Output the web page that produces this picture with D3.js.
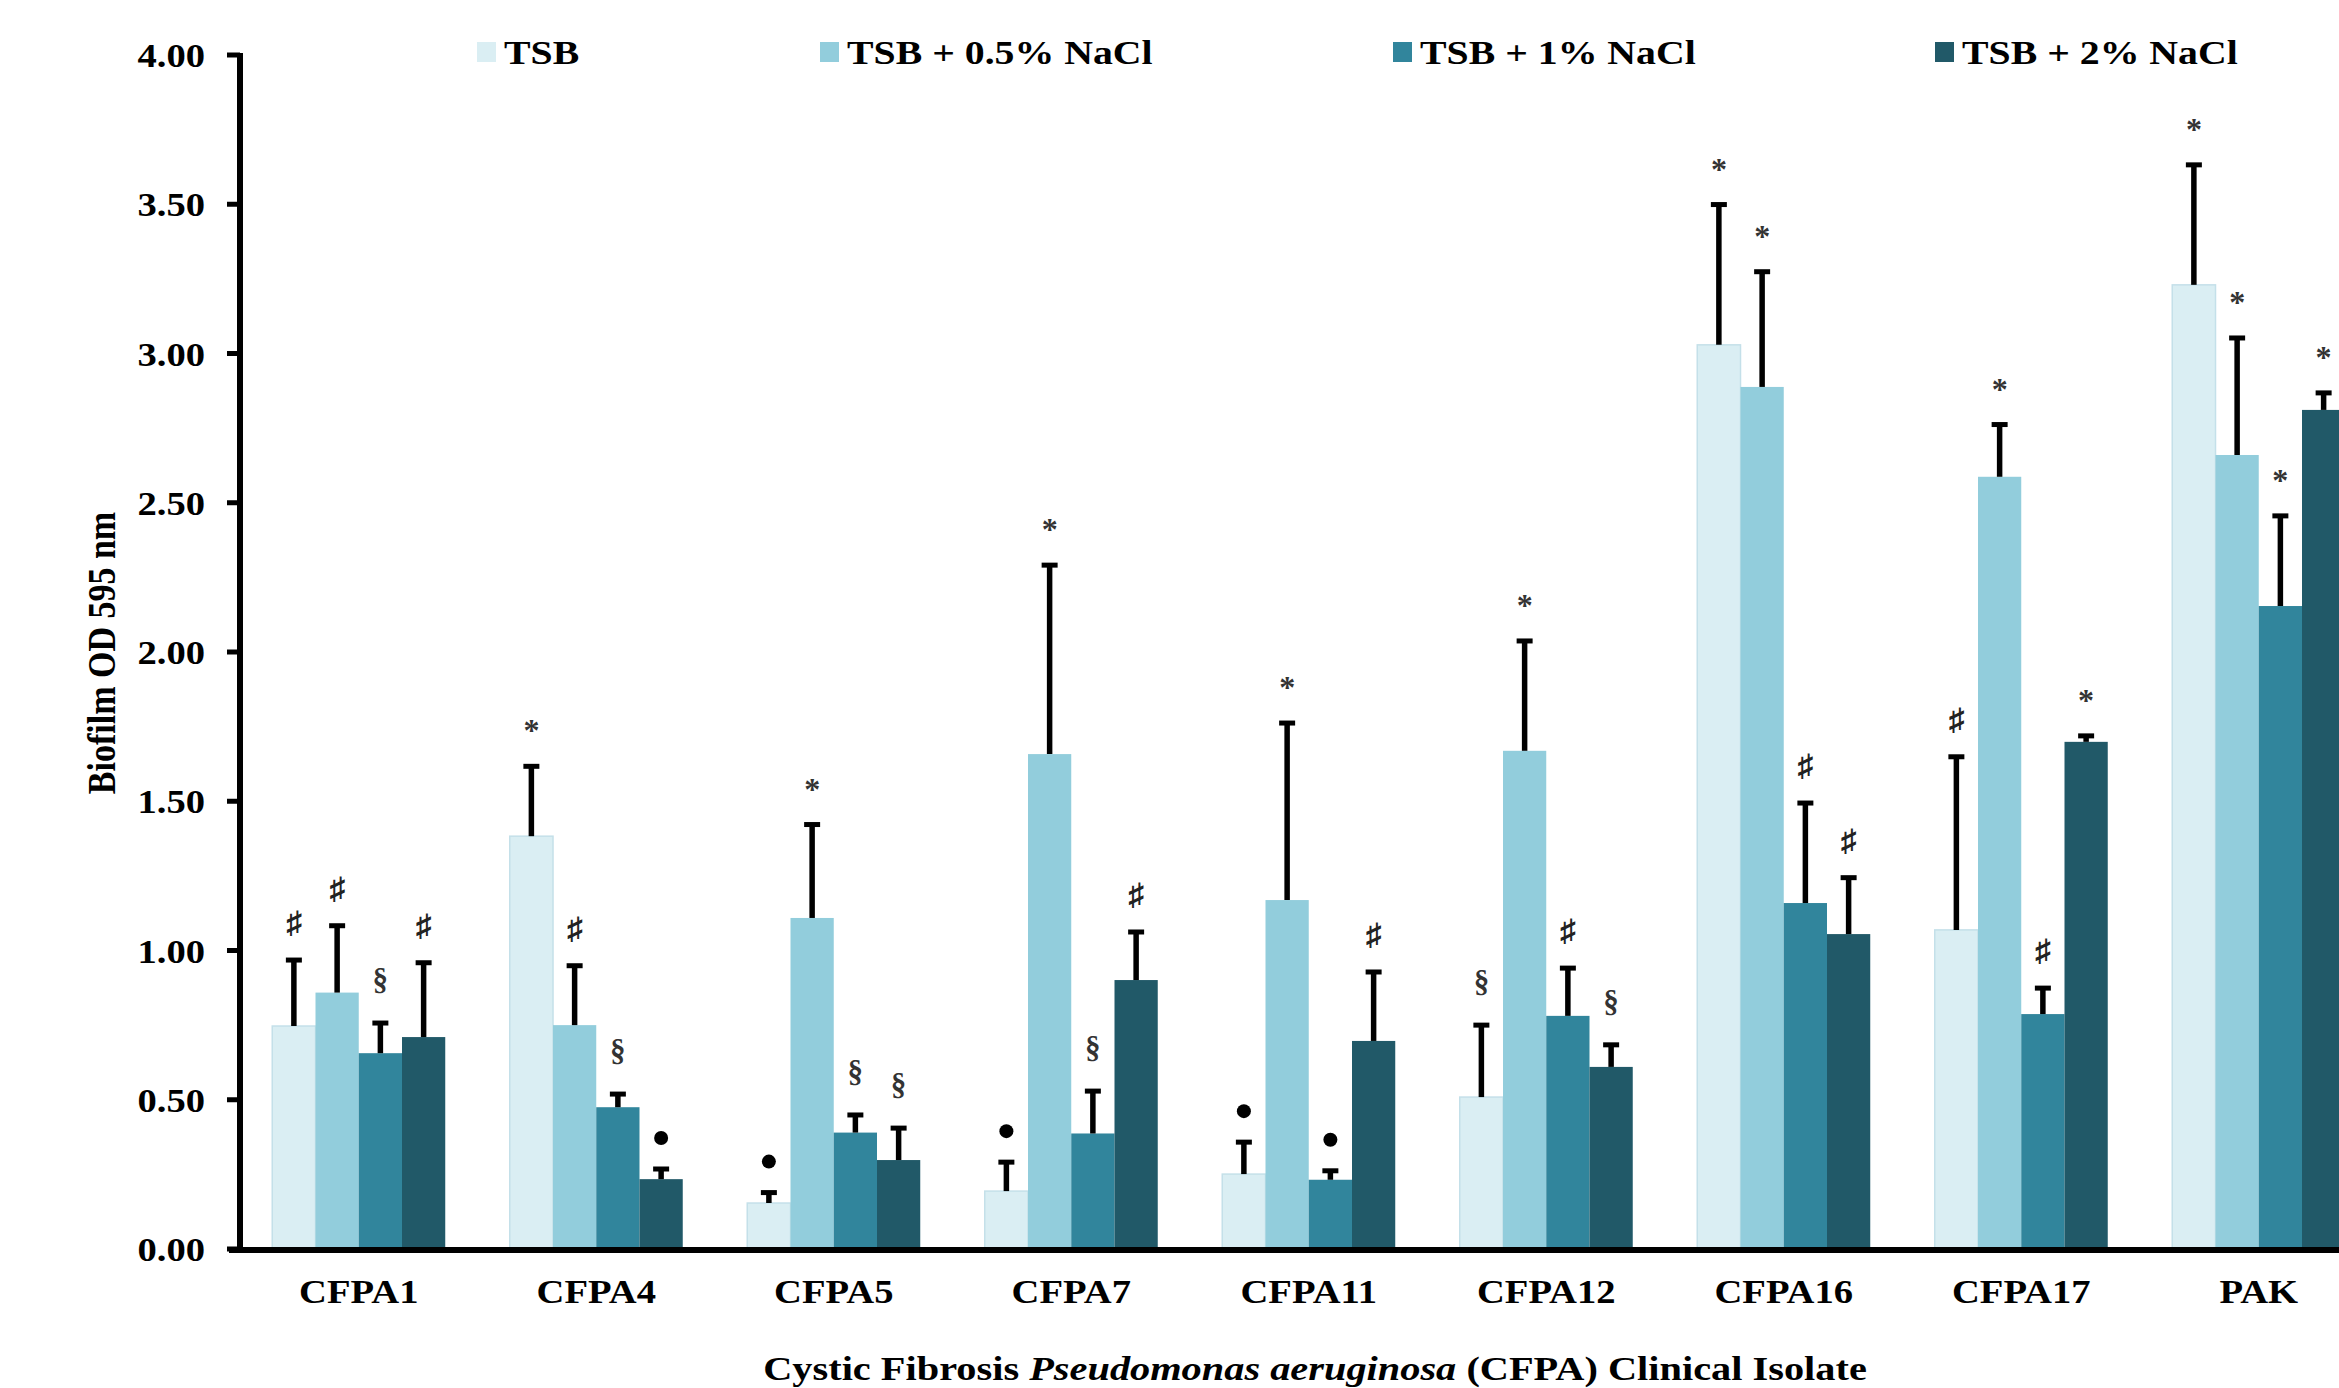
<!DOCTYPE html>
<html>
<head>
<meta charset="utf-8">
<script src="https://cdn.jsdelivr.net/npm/d3@7"></script>
<style>
  html, body { margin: 0; padding: 0; background: #fff; }
  svg { display: block; }
  text { font-family: "Liberation Serif", "Times New Roman", serif; font-weight: bold; }
</style>
</head>
<body>
<div id="chart"></div>
<script>
// isolates and growth media
const isolates = ["CFPA1", "CFPA4", "CFPA5", "CFPA7", "CFPA11", "CFPA12", "CFPA16", "CFPA17", "PAK"];
const media = ["TSB", "TSB + 0.5% NaCl", "TSB + 1% NaCl", "TSB + 2% NaCl"];

// mean biofilm OD 595 nm
const tsbMean    = [0.747, 1.383, 0.154, 0.194, 0.251, 0.509, 3.029, 1.069, 3.230];
const nacl05Mean = [0.859, 0.750, 1.109, 1.658, 1.169, 1.669, 2.888, 2.587, 2.660];
const nacl1Mean  = [0.656, 0.475, 0.390, 0.387, 0.232, 0.781, 1.159, 0.787, 2.154];
const nacl2Mean  = [0.710, 0.234, 0.298, 0.901, 0.697, 0.610, 1.055, 1.699, 2.811];

// error (upper bar only)
const tsbErr    = [0.221, 0.234, 0.035, 0.097, 0.107, 0.241, 0.470, 0.580, 0.402];
const nacl05Err = [0.224, 0.199, 0.313, 0.633, 0.593, 0.368, 0.386, 0.175, 0.392];
const nacl1Err  = [0.101, 0.044, 0.059, 0.142, 0.030, 0.160, 0.335, 0.087, 0.302];
const nacl2Err  = [0.249, 0.034, 0.107, 0.161, 0.231, 0.074, 0.189, 0.020, 0.057];

// significance marks
const tsbMark    = ["♯", "*", "●", "●", "●", "§", "*", "♯", "*"];
const nacl05Mark = ["♯", "♯", "*", "*", "*", "*", "*", "*", "*"];
const nacl1Mark  = ["§", "§", "§", "§", "●", "♯", "♯", "♯", "*"];
const nacl2Mark  = ["♯", "●", "§", "♯", "♯", "§", "♯", "*", "*"];

const yTicks = [0, 0.5, 1, 1.5, 2, 2.5, 3, 3.5, 4];

const means = [tsbMean, nacl05Mean, nacl1Mean, nacl2Mean];
const errs = [tsbErr, nacl05Err, nacl1Err, nacl2Err];
const marks = [tsbMark, nacl05Mark, nacl1Mark, nacl2Mark];
const colors = ["#daeef3", "#92cddc", "#31859c", "#215968"];

const W = 2339, H = 1388;
const SX = 1.17; // the original is stretched a bit horizontally

const svg = d3.select("#chart").append("svg")
  .attr("width", W).attr("height", H)
  .attr("viewBox", `0 0 ${W} ${H}`);

const y = d3.scaleLinear().domain([0, 4]).range([1249, 55]);
const x0 = d3.scaleBand().domain(isolates).range([240, 240 + 9 * 237.5]).paddingInner(0.2716).paddingOuter(0.1358);
const x1 = d3.scaleBand().domain(media).range([0, x0.bandwidth()]);

function stretchedText(g, x, yy, str, size, anchor) {
  return g.append("text")
    .attr("transform", `translate(${x},${yy}) scale(${SX},1)`)
    .attr("font-size", size)
    .attr("text-anchor", anchor || "start")
    .attr("fill", "#000")
    .text(str);
}

// rows of bar data
const rows = [];
isolates.forEach((iso, i) => {
  media.forEach((m, j) => {
    rows.push({ iso, m, j, v: means[j][i], e: errs[j][i], mark: marks[j][i] });
  });
});

// bars
const bars = svg.append("g");
bars.selectAll("rect").data(rows).enter().append("rect")
  .attr("x", d => x0(d.iso) + x1(d.m))
  .attr("y", d => y(d.v))
  .attr("width", x1.bandwidth())
  .attr("height", d => y(0) - y(d.v))
  .attr("fill", d => colors[d.j])
  .attr("stroke", d => d.j === 0 ? "#c4e0e9" : "none")
  .attr("stroke-width", 1.5);

// error bars
const eb = svg.append("g").attr("stroke", "#000").attr("stroke-width", 5.5);
rows.forEach(d => {
  const cx = x0(d.iso) + x1(d.m) + x1.bandwidth() / 2;
  eb.append("line").attr("x1", cx).attr("x2", cx).attr("y1", y(d.v)).attr("y2", y(d.v + d.e));
  eb.append("line").attr("x1", cx - 8).attr("x2", cx + 8).attr("y1", y(d.v + d.e)).attr("y2", y(d.v + d.e)).attr("stroke-width", 5);
});

// significance marks
const mk = svg.append("g");
rows.forEach(d => {
  const cx = x0(d.iso) + x1(d.m) + x1.bandwidth() / 2;
  const top = y(d.v + d.e);
  if (d.mark === "●") {
    mk.append("circle").attr("cx", cx).attr("cy", top - 31).attr("r", 7).attr("fill", "#000");
  } else if (d.mark === "♯") {
    mk.append("text").attr("x", cx).attr("y", top - 27).attr("text-anchor", "middle")
      .attr("font-family", "DejaVu Sans").attr("font-weight", "normal")
      .attr("font-size", 31).attr("fill", "#222").text(d.mark);
  } else if (d.mark === "§") {
    mk.append("text").attr("x", cx).attr("y", top - 33).attr("text-anchor", "middle")
      .attr("font-weight", "normal").attr("font-size", 31).attr("fill", "#333").text(d.mark);
  } else {
    mk.append("text").attr("x", cx).attr("y", top - 25).attr("text-anchor", "middle")
      .attr("font-weight", "normal").attr("font-size", 32).attr("fill", "#333").text(d.mark);
  }
});

// y axis
const yAxis = svg.append("g");
yAxis.append("line").attr("x1", 240).attr("x2", 240).attr("y1", y(4) - 2).attr("y2", y(0))
  .attr("stroke", "#000").attr("stroke-width", 6);
yTicks.forEach(t => {
  yAxis.append("line").attr("x1", 227).attr("x2", 240).attr("y1", y(t)).attr("y2", y(t))
    .attr("stroke", "#000").attr("stroke-width", 5);
  stretchedText(yAxis, 205, y(t) + 12, d3.format(".2f")(t), 33, "end");
});

// x axis
svg.append("line").attr("x1", 229).attr("x2", W).attr("y1", y(0) + 1).attr("y2", y(0) + 1)
  .attr("stroke", "#000").attr("stroke-width", 6);
isolates.forEach(iso => {
  stretchedText(svg, x0(iso) + x0.bandwidth() / 2, 1303, iso, 33, "middle");
});

// axis titles
svg.append("text")
  .attr("transform", `translate(115,653) rotate(-90) scale(1,${SX})`)
  .attr("text-anchor", "middle").attr("font-size", 34).text("Biofilm OD 595 nm");

const xt = svg.append("text")
  .attr("transform", `translate(1315,1380) scale(${SX},1)`)
  .attr("text-anchor", "middle").attr("font-size", 34.5);
xt.append("tspan").text("Cystic Fibrosis ");
xt.append("tspan").attr("font-style", "italic").text("Pseudomonas aeruginosa");
xt.append("tspan").text(" (CFPA)  Clinical Isolate");

// legend
const legendX = [477, 820, 1393, 1935];
const lg = svg.append("g");
media.forEach((m, j) => {
  lg.append("rect").attr("x", legendX[j]).attr("y", 42).attr("width", 19).attr("height", 20)
    .attr("fill", colors[j]);
  stretchedText(lg, legendX[j] + 27, 64, m, 34, "start");
});
</script>
</body>
</html>
